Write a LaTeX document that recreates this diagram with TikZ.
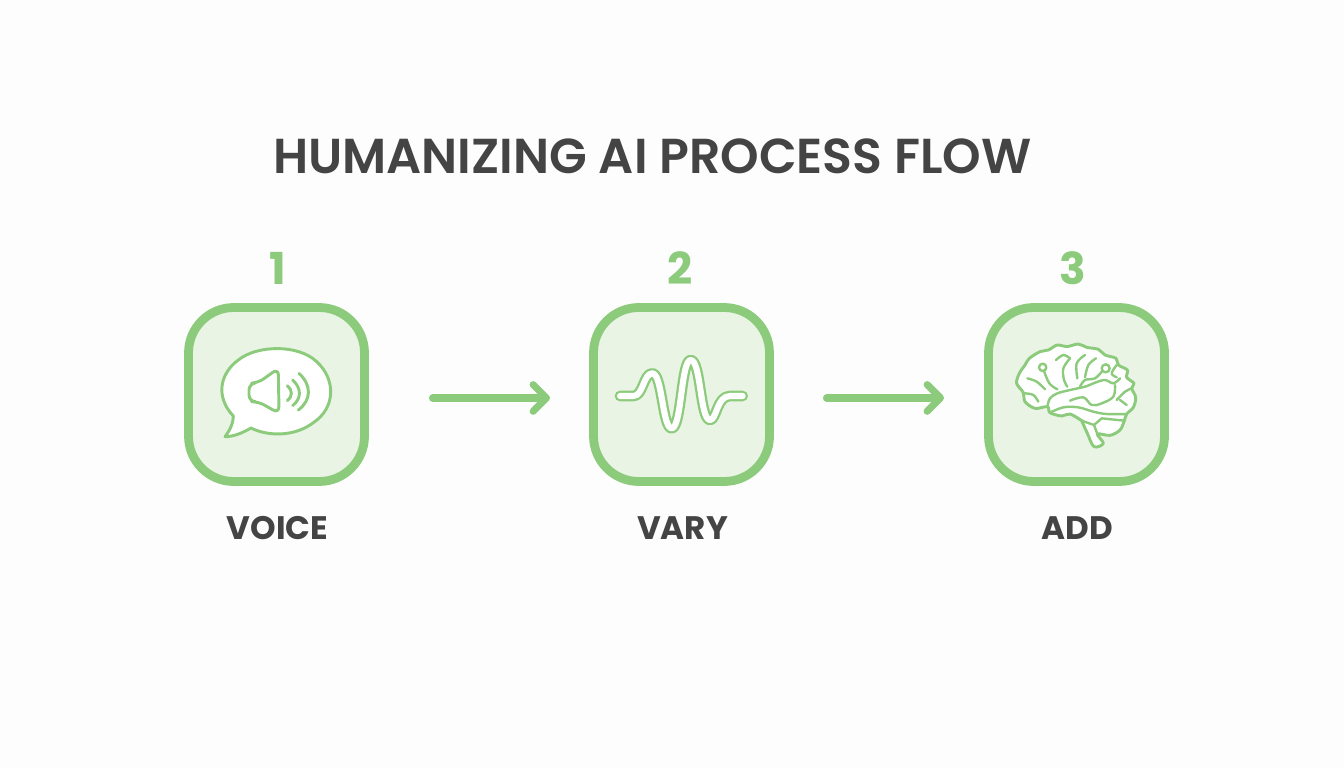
\documentclass[tikz,border=0pt]{standalone}
\usepackage{fontspec}
\setmainfont{Poppins}[BoldFont={Poppins SemiBold}]
\newfontfamily\heavyfont{Poppins}[BoldFont={Poppins Bold}]
\usetikzlibrary{arrows.meta}
\definecolor{leaf}{HTML}{8CCB7C}
\definecolor{pale}{HTML}{E9F4E4}
\definecolor{ink}{HTML}{444444}
\definecolor{paper}{HTML}{FDFDFD}
\tikzset{
  x=0.75pt,y=-0.75pt,
  card/.style={draw=leaf,fill=pale,line width=6.6pt,rounded corners=34pt,minimum width=132pt,minimum height=130.5pt,outer sep=0pt,inner sep=0pt},
  stepnum/.style={text=leaf,font=\heavyfont\fontsize{33}{33}\selectfont\bfseries,inner sep=0pt},
  caption/.style={text=ink,font=\heavyfont\fontsize{24.4}{24.4}\selectfont\bfseries,inner sep=0pt},
  flow/.style={draw=leaf,line width=5.3pt,line cap=round,-{Straight Barb[round,length=10pt,width=20pt,line width=5.3pt]}},
  iconline/.style={draw=leaf,line width=2.2pt,line cap=round,line join=round},
  fold/.style={draw=leaf,line width=1.8pt,line cap=round,line join=round},
}
\begin{document}
\begin{tikzpicture}
\fill[paper] (0,0) rectangle (1344,768);
\useasboundingbox (0,0) rectangle (1344,768);
\node[text=ink,font=\fontsize{36.8}{36.8}\selectfont\bfseries,inner sep=0pt] (title) at (652.5,156) {HUMANIZING AI PROCESS FLOW};
\node[card] (box1) at (276.5,394.5) {};
\node[card] (box2) at (681.5,394.5) {};
\node[card] (box3) at (1076.5,394.5) {};
\node[stepnum] (n1) at (278,268) {1};
\node[stepnum] (n2) at (680,268) {2};
\node[stepnum] (n3) at (1073,268) {3};
\node[caption] (c1) at (277.5,528) {VOICE};
\node[caption] (c2) at (682.5,528) {VARY};
\node[caption] (c3) at (1077.5,528) {ADD};
\draw[flow,shorten <=68*0.75pt,shorten >=43.5*0.75pt] ([yshift=-2.6pt]box1.east) -- ([yshift=-2.6pt]box2.west);
\draw[flow,shorten <=57*0.75pt,shorten >=44.5*0.75pt] ([yshift=-2.6pt]box2.east) -- ([yshift=-2.6pt]box3.west);
% speech bubble, coordinates in zoom pixels
\begin{scope}[shift={(170,240)},x=0.25pt,y=-0.25pt]
\draw[iconline,fill=white] (190,528) .. controls (135,470) and (150,400) .. (205,360)
  .. controls (260,315) and (385,312) .. (440,365)
  .. controls (500,420) and (495,505) .. (430,548)
  .. controls (375,590) and (295,590) .. (243,564)
  .. controls (215,580) and (190,590) .. (165,590)
  .. controls (180,570) and (190,550) .. (190,528) -- cycle;
\draw[iconline,rounded corners=5pt] (237,430) -- (265,428) -- (325,385) -- (327,520) -- (265,485) -- (237,485) -- cycle;
\draw[iconline] (352,437) .. controls (368,450) and (368,470) .. (352,482);
\draw[iconline] (368,420) .. controls (395,445) and (395,475) .. (368,497);
\draw[iconline] (387,400) .. controls (425,435) and (425,480) .. (385,510);
\end{scope}
% waveform
\begin{scope}[shift={(575,290)},x=0.25pt,y=-0.25pt]
\def\wave{(135,318) -- (175,318) .. controls (205,318) and (205,250) .. (232,250)
  .. controls (262,250) and (262,415) .. (290,415)
  .. controls (320,415) and (318,210) .. (347,210)
  .. controls (378,210) and (375,390) .. (405,390)
  .. controls (425,390) and (425,318) .. (465,318) -- (503,318)}
\draw[leaf,line width=8pt,line cap=round,line join=round] \wave;
\draw[white,line width=4.6pt,line cap=round,line join=round] \wave;
\end{scope}
% brain
\begin{scope}[shift={(970,290)},x=0.25pt,y=-0.25pt]
\draw[iconline,fill=white] plot[smooth,tension=0.55] coordinates {
 (335,392) (352,430) (372,470) (400,460) (382,432) (420,436) (450,420) (463,392)
 (470,372) (490,352) (497,322) (485,295) (492,280) (470,262) (472,240) (445,225) (438,205)
 (405,195) (385,178) (350,172) (325,162) (290,170) (262,165) (235,180) (210,185)
 (178,205) (165,225) (148,250) (140,280) (160,308) (165,335) (195,355) (232,350)
 (240,368) (275,378) (300,372) (335,392)};
\draw[fold] plot[smooth,tension=0.6] coordinates {(232,350) (240,325) (262,310) (300,300) (345,290) (375,278) (405,270) (430,280) (450,265)};
\draw[fold] plot[smooth,tension=0.6] coordinates {(240,368) (280,352) (325,352) (370,365) (410,372) (470,372)};
\draw[fold] plot[smooth,tension=0.6] coordinates {(435,285) (430,320) (395,340) (365,345) (340,322) (300,332)};
\draw[fold] plot[smooth,tension=0.6] coordinates {(440,330) (465,305) (485,295)};
\draw[fold] (450,330) -- (470,345);
\draw[fold] (218,232) circle[radius=11];
\draw[fold] (407,235) circle[radius=12];
\draw[fold] plot[smooth,tension=0.6] coordinates {(222,243) (238,280) (262,298)};
\draw[fold] plot[smooth,tension=0.6] coordinates {(397,243) (375,265) (345,270) (330,290)};
\draw[fold] plot[smooth,tension=0.6] coordinates {(172,265) (200,275) (225,298)};
\draw[fold] plot[smooth,tension=0.6] coordinates {(165,310) (190,315) (205,335)};
\draw[fold] plot[smooth,tension=0.6] coordinates {(258,210) (280,195) (300,205)};
\draw[fold] plot[smooth,tension=0.6] coordinates {(300,205) (280,235) (282,270) (292,290)};
\draw[fold] plot[smooth,tension=0.6] coordinates {(345,195) (320,220) (322,265)};
\draw[fold] plot[smooth,tension=0.6] coordinates {(378,205) (355,225) (345,262)};
\draw[fold] plot[smooth,tension=0.6] coordinates {(440,225) (425,250) (440,262)};
\draw[fold] (335,392) -- (372,405) -- (382,432);
\draw[fold] (372,405) -- (395,385) -- (463,392);
\end{scope}
\end{tikzpicture}
\end{document}
